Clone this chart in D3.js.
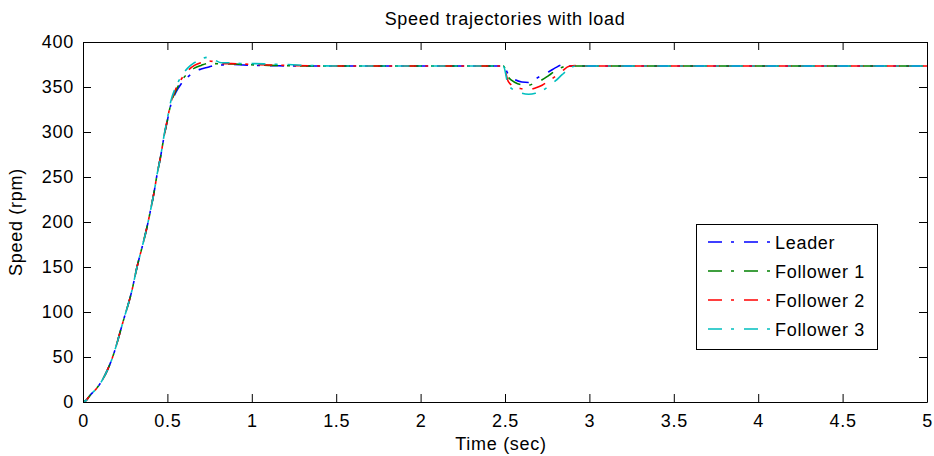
<!DOCTYPE html>
<html lang="en">
<head>
<meta charset="UTF-8">
<title>Speed trajectories with load</title>
<script src="https://d3js.org/d3.v7.min.js"></script>
<style>
  body { margin: 0; background: #fff; }
  svg { display: block; font-family: "Liberation Sans", Arial, sans-serif; letter-spacing: 0.7px; }
  .axis text { font-size: 18px; fill: #000; }
  .axis path, .axis line { stroke: #000; }
</style>
</head>
<body>
<svg id="chart" width="934" height="456"></svg>
<script>
// time samples (sec) and speeds (rpm)
const timeRise = [0, 0.02, 0.04, 0.08, 0.11, 0.17, 0.24, 0.29, 0.32, 0.35, 0.38, 0.40, 0.42, 0.44, 0.46, 0.48, 0.50, 0.52, 0.55, 0.58, 0.62, 0.66, 0.70, 0.74, 0.78, 0.82, 0.88, 0.95, 1.02, 1.10, 1.20, 1.35, 1.5];
const leaderRise    = [0, 2, 7, 15, 23, 47, 91, 124, 150, 172, 195, 213, 232, 254, 273, 295, 313, 330, 344, 353, 361, 367, 370, 372, 374, 374.5, 375, 374.5, 374, 373.6, 373.5, 373.3, 373.3];
const follower1Rise = [0, 2, 7, 15, 23, 47, 91, 124, 150, 172, 195, 213, 232, 254, 273, 295, 313, 331, 346, 356, 365, 371, 374, 376, 376, 375.5, 375.5, 375, 374.5, 374, 373.7, 373.4, 373.3];
const follower2Rise = [0, 2, 7, 15, 23, 47, 91, 124, 150, 172, 195, 213, 232, 254, 273, 295, 314, 332, 348, 358, 368, 374, 377, 379, 378, 376, 376, 375.5, 375, 374.5, 374, 373.5, 373.3];
const follower3Rise = [0, 2, 7, 15, 23, 47, 91, 124, 150, 172, 195, 213, 232, 254, 273, 296, 315, 334, 350, 361, 371, 377, 381, 383, 380, 377, 377, 376, 376, 375.5, 375, 373.8, 373.3];

// load disturbance around t = 2.5 s
const timeDip = [2.49, 2.52, 2.56, 2.60, 2.64, 2.68, 2.72, 2.76, 2.80, 2.84, 2.88, 2.92, 2.96, 5];
const leaderDip    = [373.3, 364, 358, 355.5, 355, 359, 363, 367, 371.5, 374.5, 373.5, 373.3, 373.3, 373.3];
const follower1Dip = [373.3, 361, 355, 352.5, 352, 355, 358, 363, 368, 372, 374, 373.3, 373.3, 373.3];
const follower2Dip = [373.3, 356, 350, 348, 347, 349, 352, 357, 362, 368, 373, 373.8, 373.3, 373.3];
const follower3Dip = [373.3, 352, 346, 343, 342, 343, 346, 351, 357, 364, 370, 373.5, 373.3, 373.3];

const seriesNames = ["Leader", "Follower 1", "Follower 2", "Follower 3"];
const seriesColors = ["#0000ff", "#008000", "#ff0000", "#00bfbf"];
const riseValues = [leaderRise, follower1Rise, follower2Rise, follower3Rise];
const dipValues = [leaderDip, follower1Dip, follower2Dip, follower3Dip];

const xTicks = [0, 0.5, 1, 1.5, 2, 2.5, 3, 3.5, 4, 4.5, 5];
const yTicks = [0, 50, 100, 150, 200, 250, 300, 350, 400];

const W = 934, H = 456;
const margin = { top: 42, right: 7, bottom: 54, left: 83 };
const svg = d3.select("#chart");

const x = d3.scaleLinear().domain([0, 5]).range([margin.left, W - margin.right]);
const y = d3.scaleLinear().domain([0, 400]).range([H - margin.bottom, margin.top]);

// clip to plot area
svg.append("defs").append("clipPath").attr("id", "clip")
  .append("rect")
  .attr("x", margin.left).attr("y", margin.top)
  .attr("width", x(5) - x(0)).attr("height", y(0) - y(400));

// series lines
const line = d3.line()
  .x(d => x(d[0]))
  .y(d => y(d[1]))
  .curve(d3.curveMonotoneX);

const series = seriesNames.map((name, i) => ({
  name: name,
  color: seriesColors[i],
  points: timeRise.map((t, j) => [t, riseValues[i][j]])
    .concat(timeDip.map((t, j) => [t, dipValues[i][j]]))
}));

svg.append("g").attr("clip-path", "url(#clip)")
  .selectAll("path")
  .data(series)
  .join("path")
  .attr("d", d => line(d.points))
  .attr("fill", "none")
  .attr("stroke", d => d.color)
  .attr("stroke-width", 1.6)
  .attr("stroke-dasharray", "14,9,3,10")
  .attr("stroke-dashoffset", (d, i) => i * 3);

// axes with inward ticks, box on
svg.append("g").attr("class", "axis")
  .attr("transform", `translate(0,${y(0)})`)
  .call(d3.axisBottom(x).tickValues(xTicks).tickFormat(d3.format("")).tickSizeInner(-8).tickSizeOuter(0).tickPadding(12));
svg.append("g").attr("class", "axis")
  .attr("transform", `translate(0,${y(400)})`)
  .call(d3.axisTop(x).tickValues(xTicks).tickFormat("").tickSizeInner(-8).tickSizeOuter(0));
svg.append("g").attr("class", "axis")
  .attr("transform", `translate(${x(0)},0)`)
  .call(d3.axisLeft(y).tickValues(yTicks).tickSizeInner(-8).tickSizeOuter(0).tickPadding(9));
svg.append("g").attr("class", "axis")
  .attr("transform", `translate(${x(5)},0)`)
  .call(d3.axisRight(y).tickValues(yTicks).tickFormat("").tickSizeInner(-8).tickSizeOuter(0));

// titles
svg.append("text")
  .attr("x", (x(0) + x(5)) / 2).attr("y", 25)
  .attr("text-anchor", "middle").attr("font-size", 18)
  .text("Speed trajectories with load");

svg.append("text")
  .attr("x", (x(0) + x(5)) / 2 - 4).attr("y", 450)
  .attr("text-anchor", "middle").attr("font-size", 18)
  .text("Time (sec)");

svg.append("text")
  .attr("transform", `translate(22,${(y(0) + y(400)) / 2}) rotate(-90)`)
  .attr("text-anchor", "middle").attr("font-size", 18)
  .text("Speed (rpm)");

// legend
const legend = svg.append("g").attr("transform", "translate(696,224)");
legend.append("rect")
  .attr("x", 0.5).attr("y", 0.5).attr("width", 181).attr("height", 125)
  .attr("fill", "#fff").attr("stroke", "#000");

const items = legend.selectAll("g.item")
  .data(series)
  .join("g").attr("class", "item")
  .attr("transform", (d, i) => `translate(0,${18 + i * 29})`);

items.append("line")
  .attr("x1", 12).attr("x2", 74).attr("y1", 0).attr("y2", 0)
  .attr("stroke", d => d.color).attr("stroke-width", 1.6)
  .attr("stroke-dasharray", "14,9,3,10");

items.append("text")
  .attr("x", 79).attr("y", 6.5)
  .attr("font-size", 18)
  .text(d => d.name);
</script>
</body>
</html>
